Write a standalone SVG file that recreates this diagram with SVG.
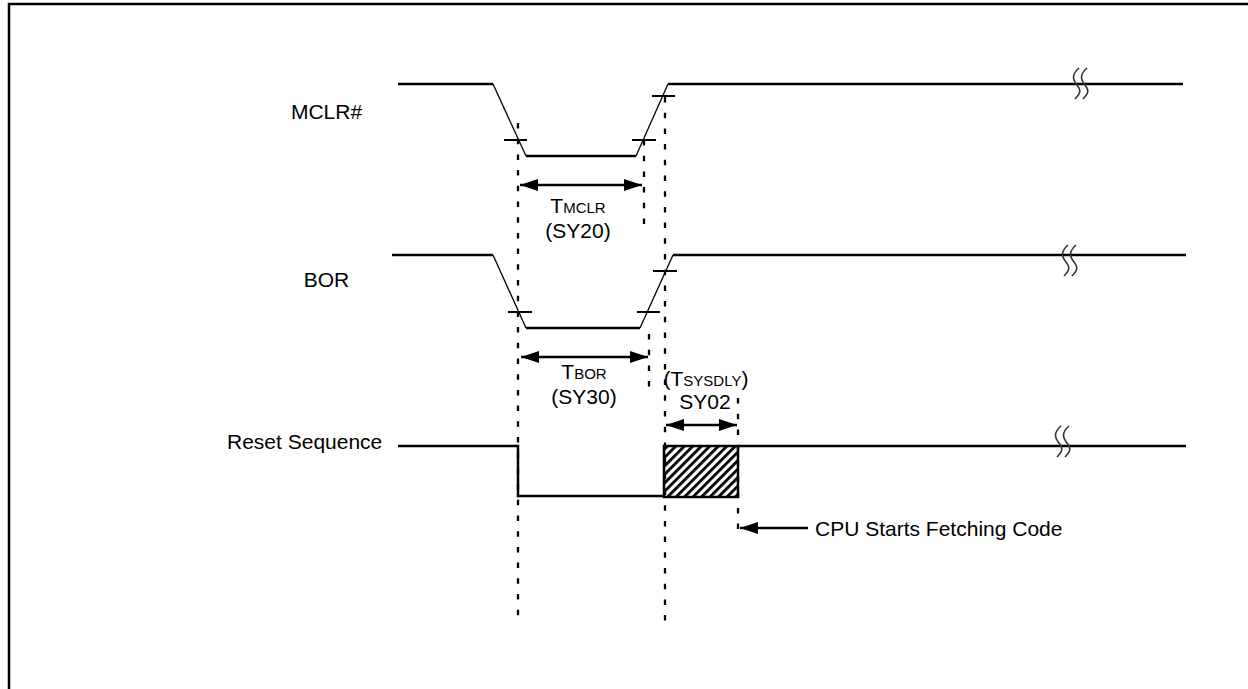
<svg xmlns="http://www.w3.org/2000/svg" width="1248" height="689" viewBox="0 0 1248 689">
<style>
text{font-family:"Liberation Sans",Arial,sans-serif;font-size:21px;fill:#000}
.sm{font-size:15px}
.w{fill:none;stroke:#000;stroke-width:2.5}
.s{fill:none;stroke:#000;stroke-width:1.3}
.t{fill:none;stroke:#000;stroke-width:2}
.d{fill:none;stroke:#000;stroke-width:2.3;stroke-dasharray:5.5 10.2}
.a{fill:none;stroke:#000;stroke-width:2.5;marker-start:url(#ah);marker-end:url(#ah)}
.a1{fill:none;stroke:#000;stroke-width:2.5;marker-start:url(#ah)}
.b{fill:none;stroke:#333;stroke-width:1.6}
</style>
<defs>
<marker id="ah" viewBox="0 0 18 12" refX="18" refY="6" markerWidth="18" markerHeight="12" markerUnits="userSpaceOnUse" orient="auto-start-reverse">
<path d="M0,0 L18,6 L0,12 Z" fill="#000"/>
</marker>
<pattern id="hatch" width="6" height="6" patternUnits="userSpaceOnUse" patternTransform="rotate(45)">
<rect x="0" y="0" width="2.8" height="6" fill="#000"/>
</pattern>
<path id="brk" d="M2,-16 C-6,-9 -4,-4 0,1 S4,9 -2,15"/>
</defs>
<rect width="1248" height="689" fill="#fff"/>
<path d="M9,689 V4 H1248" fill="none" stroke="#000" stroke-width="2.5"/>

<g id="mclr">
<text x="326.5" y="119" text-anchor="middle">MCLR#</text>
<path class="w" d="M398,84 H493"/>
<path class="s" d="M493,84 L526,156"/>
<path class="w" d="M526,156 H636"/>
<path class="s" d="M636,156 L668,84"/>
<path class="w" d="M668,84 H1183"/>
<path class="t" d="M504,140 H527 M632,140 H656 M652,96 H675"/>
<g transform="translate(1077,84)"><use href="#brk" class="b"/></g>
<g transform="translate(1085,84)"><use href="#brk" class="b"/></g>
</g>

<g id="bor">
<text x="326.5" y="287" text-anchor="middle">BOR</text>
<path class="w" d="M392,255 H493"/>
<path class="s" d="M493,255 L526,328"/>
<path class="w" d="M526,328 H640"/>
<path class="s" d="M640,328 L673,255"/>
<path class="w" d="M673,255 H1186"/>
<path class="t" d="M508,312 H532 M637,312 H660 M653,271 H677"/>
<g transform="translate(1066,261)"><use href="#brk" class="b"/></g>
<g transform="translate(1074,261)"><use href="#brk" class="b"/></g>
</g>

<g id="reset">
<text x="227" y="449">Reset Sequence</text>
<path class="w" d="M398,446 H518 V496 H664"/>
<rect x="664" y="446" width="74" height="51" fill="url(#hatch)" stroke="#000" stroke-width="2.5"/>
<path class="w" d="M738,446 H1186"/>
<g transform="translate(1059,442)"><use href="#brk" class="b"/></g>
<g transform="translate(1067,442)"><use href="#brk" class="b"/></g>
</g>

<g id="connectors">
<path class="d" d="M518,123 V624"/>
<path class="d" d="M665,97 V624"/>
<path class="d" d="M644,140 V230"/>
<path class="d" d="M649,334 V392"/>
<path class="d" d="M738,398 V536"/>
<path class="a" d="M520,185 H642"/>
<path class="a" d="M521,357 H648"/>
<path class="a" d="M666,425 H737"/>
<path class="a1" d="M740,528 H808"/>
</g>

<g id="labels">
<text x="578" y="213" text-anchor="middle">T<tspan class="sm">MCLR</tspan></text>
<text x="578" y="238" text-anchor="middle">(SY20)</text>
<text x="584" y="379" text-anchor="middle">T<tspan class="sm">BOR</tspan></text>
<text x="584" y="404" text-anchor="middle">(SY30)</text>
<text x="706" y="386" text-anchor="middle">(T<tspan class="sm">SYSDLY</tspan>)</text>
<text x="705" y="409" text-anchor="middle">SY02</text>
<text x="815" y="536">CPU Starts Fetching Code</text>
</g>
</svg>
